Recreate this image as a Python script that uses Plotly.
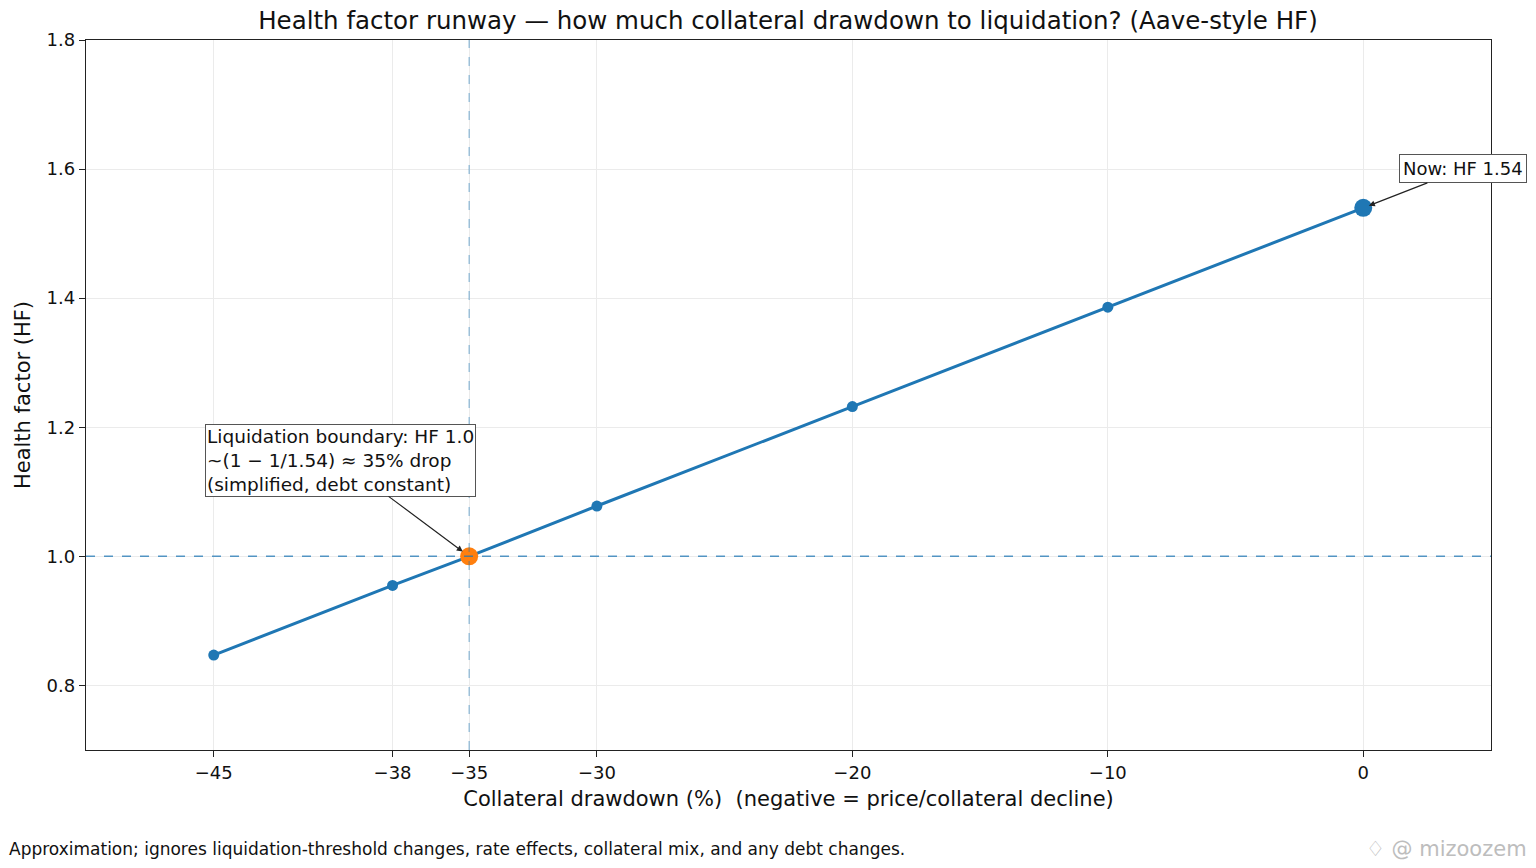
import plotly.graph_objects as go

# values
drawdown = [-45, -38, -35, -30, -20, -10, 0]
health_factor = [0.847, 0.955, 1.0, 1.078, 1.232, 1.386, 1.54]
x_ticks = [-45, -38, -35, -30, -20, -10, 0]
y_ticks = [0.8, 1.0, 1.2, 1.4, 1.6, 1.8]

now_x, now_hf = 0, 1.54
liq_x, liq_hf = -35, 1.0

blue = "#1f77b4"
orange = "#ff7f0e"
font = "DejaVu Sans"

fig = go.Figure()

# reference lines
fig.add_hline(y=1.0, line=dict(color="rgba(31,119,180,0.75)", width=1.5, dash="dash"))
fig.add_vline(x=-35, line=dict(color="rgba(31,119,180,0.4)", width=1.5, dash="dash"))

fig.add_trace(go.Scatter(x=drawdown, y=health_factor, mode="lines+markers",
                         line=dict(color=blue, width=3),
                         marker=dict(color=blue, size=11),
                         showlegend=False))
fig.add_trace(go.Scatter(x=[now_x], y=[now_hf], mode="markers",
                         marker=dict(color=blue, size=18), showlegend=False))
fig.add_trace(go.Scatter(x=[liq_x], y=[liq_hf], mode="markers",
                         marker=dict(color=orange, size=18), showlegend=False))

fig.add_annotation(x=now_x, y=now_hf, text="Now: HF 1.54",
                   ax=100, ay=-39, showarrow=True, arrowhead=2, arrowsize=1,
                   arrowwidth=1.2, arrowcolor="#222", standoff=6,
                   bgcolor="white", bordercolor="#555", borderwidth=1, borderpad=3,
                   font=dict(family=font, size=18, color="#111"))
fig.add_annotation(x=liq_x, y=liq_hf,
                   text="Liquidation boundary: HF 1.0<br>~(1 \u2212 1/1.54) \u2248 35% drop<br>(simplified, debt constant)",
                   align="left", ax=-129, ay=-96, showarrow=True, arrowhead=2,
                   arrowsize=1, arrowwidth=1.2, arrowcolor="#222", standoff=8,
                   bgcolor="white", bordercolor="#555", borderwidth=1, borderpad=1,
                   font=dict(family=font, size=18.5, color="#111"))

fig.add_annotation(xref="paper", yref="paper", x=-0.056, y=-0.139, xanchor="left",
                   yanchor="middle", showarrow=False,
                   text="Approximation; ignores liquidation-threshold changes, rate effects, collateral mix, and any debt changes.",
                   font=dict(family=font, size=17, color="#111"))
fig.add_annotation(xref="paper", yref="paper", x=1.027, y=-0.139, xanchor="right",
                   yanchor="middle", showarrow=False, text="\u2662 @ mizoozem",
                   font=dict(family=font, size=21, color="#bdbdbd"))

axis_common = dict(showline=True, linecolor="#222", linewidth=1.3, mirror=True,
                   ticks="outside", ticklen=6, tickcolor="#222",
                   showgrid=True, gridcolor="#ebebeb", gridwidth=1, zeroline=False,
                   tickfont=dict(family=font, size=18, color="#111"))

fig.update_layout(
    width=1536, height=868,
    paper_bgcolor="white", plot_bgcolor="white",
    margin=dict(l=86, r=45, t=40, b=118),
    title=dict(text="Health factor runway \u2014 how much collateral drawdown to liquidation? (Aave-style HF)",
               x=0.513, xanchor="center", y=0.977, yanchor="middle",
               font=dict(family=font, size=24.5, color="#111")),
    xaxis=dict(range=[-50, 5], tickvals=x_ticks,
               ticktext=[("\u2212" + str(-v)) if v < 0 else str(v) for v in x_ticks],
               title=dict(text="Collateral drawdown (%)  (negative = price/collateral decline)",
                          font=dict(family=font, size=21, color="#111"), standoff=9),
               **axis_common),
    yaxis=dict(range=[0.7, 1.8], tickvals=y_ticks, tickformat=".1f",
               title=dict(text="Health factor (HF)",
                          font=dict(family=font, size=21, color="#111"), standoff=10),
               **axis_common),
)

fig.write_html("out.html", config={"displayModeBar": False},
               post_script="document.body.style.margin='0';")
